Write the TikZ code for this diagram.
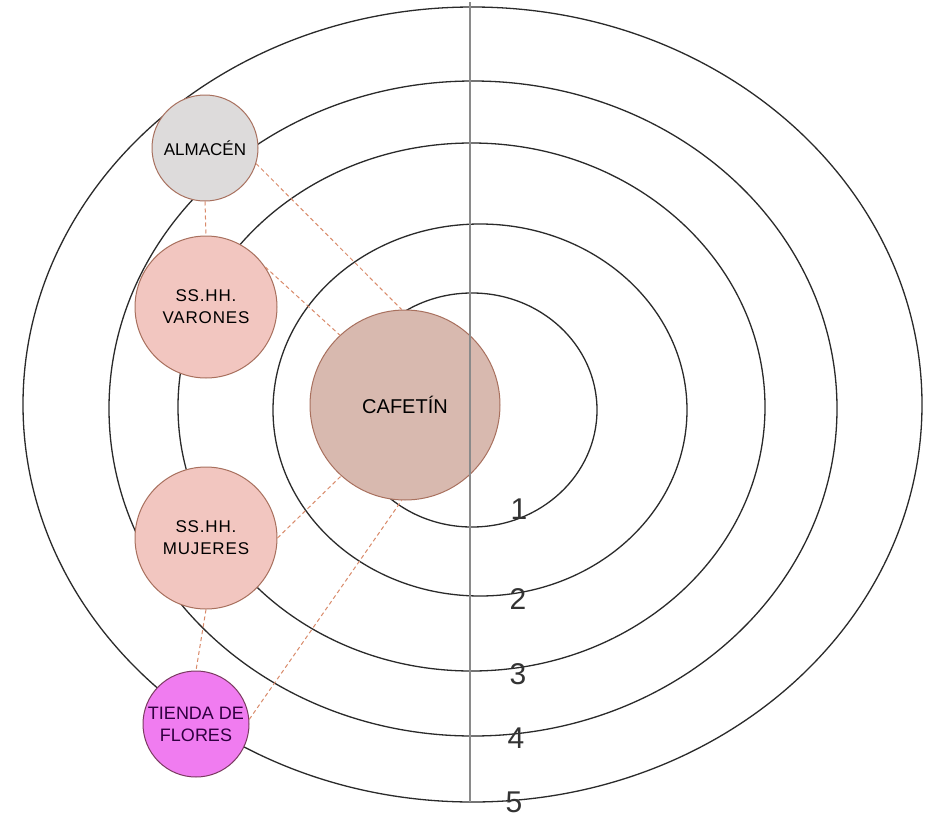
\documentclass[tikz,border=0pt]{standalone}
\usepackage{fontspec}
\setmainfont{Liberation Sans}
\definecolor{ringc}{HTML}{2A2A2A}
\definecolor{axisc}{HTML}{8A8A8A}
\definecolor{dashc}{HTML}{D98A6A}
\definecolor{almfill}{HTML}{DDDBDB}
\definecolor{shfill}{HTML}{F2C6C0}
\definecolor{caffill}{HTML}{D8B9AF}
\definecolor{flfill}{HTML}{F07CF0}
\definecolor{bordc}{HTML}{A8705E}
\definecolor{flbord}{HTML}{7A3A60}
\definecolor{numc}{HTML}{333333}
\tikzset{
  ring/.style={draw=ringc, line width=1.3pt},
  axisline/.style={draw=axisc, line width=1.1pt},
  link/.style={draw=dashc, line width=1pt, dash pattern=on 4pt off 3pt},
  room/.style={circle, draw=bordc, line width=1pt, inner sep=0pt, align=center,
    font=\fontsize{17}{22}\selectfont},
  numlab/.style={text=numc, inner sep=0pt, font=\fontsize{30}{30}\selectfont}
}
\begin{document}
\begin{tikzpicture}[x=1pt,y=-1pt]
\useasboundingbox (0,0) rectangle (930,817);
\fill[white] (0,0) rectangle (930,817);
% rings
\draw[ring] (472.5,404.5) ellipse [x radius=449.5pt, y radius=397.5pt];
\draw[ring] (473,408.5) ellipse [x radius=364pt, y radius=327.5pt];
\draw[ring] (471.5,407) ellipse [x radius=293.5pt, y radius=264pt];
\draw[ring] (480,410) ellipse [x radius=207pt, y radius=186pt];
\draw[ring] (472,410) ellipse [x radius=125pt, y radius=117pt];
% rooms
\node[room, fill=caffill, minimum size=190pt, font=\fontsize{20}{24}\selectfont] (caf) at (405,405) {CAFETÍN};
\draw[axisline] (470,2) coordinate (axtop) -- (470,802) coordinate (axbot);
\node[room, fill=almfill, minimum size=106pt] (alm) at (205,148) {ALMACÉN};
\node[room, fill=shfill, minimum size=142pt] (var) at (206,307) {\addfontfeature{LetterSpace=5}SS.HH.\\\addfontfeature{LetterSpace=5}VARONES};
\node[room, fill=shfill, minimum size=142pt] (muj) at (206,538) {\addfontfeature{LetterSpace=5}SS.HH.\\\addfontfeature{LetterSpace=5}MUJERES};
\node[room, fill=flfill, draw=flbord, minimum size=106pt, text={rgb,255:red,48;green,0;blue,64}, font=\fontsize{18}{22}\selectfont] (fl) at (196,724) {TIENDA DE\\FLORES};
% links
\draw[link] (alm.-17) -- (caf.92);
\draw[link] (alm.south) -- (var.north);
\draw[link] (var.34) -- (caf.133);
\draw[link] (muj.0) -- (caf.-132);
\draw[link] (fl.5) -- (caf.-92);
\draw[link] (muj.south) -- (fl.north);
% numbers
\node[numlab] (n1) at (519,509) {1};
\node[numlab] (n2) at (518,599) {2};
\node[numlab] (n3) at (518,674) {3};
\node[numlab] (n4) at (516,738) {4};
\node[numlab] (n5) at (514,802) {5};
\end{tikzpicture}
\end{document}
